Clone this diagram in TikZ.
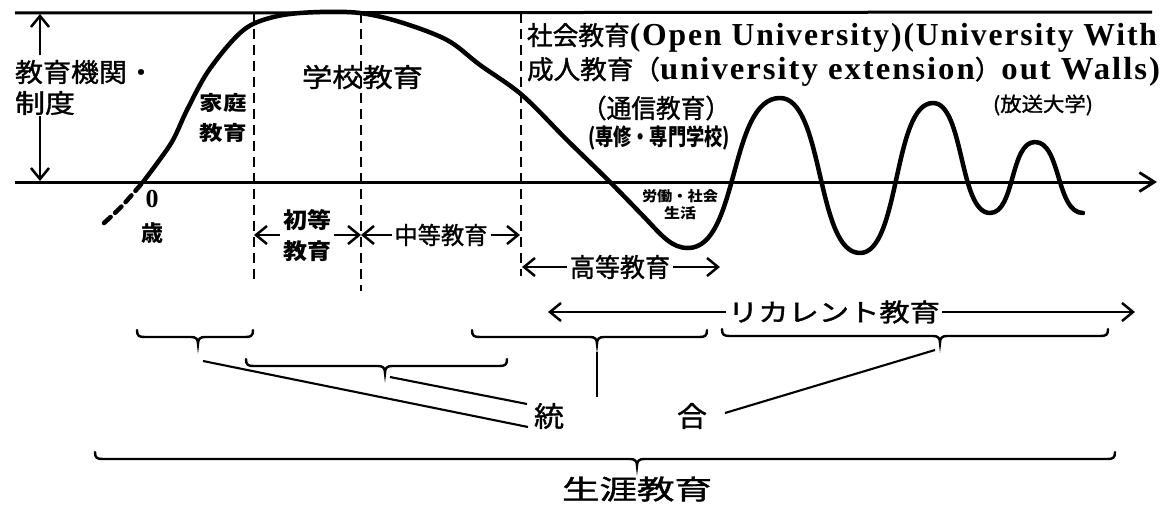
\documentclass[tikz,border=0pt]{standalone}
\usepackage{fontspec}
\usepackage{graphicx}
\setmainfont{Liberation Serif}
\newfontfamily\lat{Liberation Serif}[LetterSpace=6]
\newfontfamily\jp{Noto Sans CJK JP}
\newfontfamily\jpm{Noto Sans CJK JP}[BoldFont={Noto Sans CJK JP}, BoldFeatures={FakeBold=1.2}]
\usetikzlibrary{arrows.meta}
\newcommand\fitw[2]{\resizebox{#1}{\height}{#2}}
\newcommand\fs[1]{\fontsize{#1}{#1}\selectfont}
\newcommand\med{\jpm\bfseries}
\newcommand\mybrace[4]{%
  \draw[br] (#1,#4) .. controls (#1,{#4+6}) and ({#1+2},{#4+7}) .. ({#1+8},{#4+7})
    -- ({#3-7},{#4+7}) .. controls ({#3-2},{#4+7}) and (#3,{#4+9}) .. (#3,{#4+14})
    .. controls (#3,{#4+9}) and ({#3+2},{#4+7}) .. ({#3+7},{#4+7})
    -- ({#2-8},{#4+7}) .. controls ({#2-2},{#4+7}) and (#2,{#4+6}) .. (#2,#4);}
\tikzset{
  curve/.style={line width=4.5pt, line join=round, line cap=round},
  axisline/.style={line width=3pt},
  guide/.style={line width=2.4pt, dash pattern=on 10pt off 6pt},
  arr/.style={line width=2.3pt, -{Straight Barb[length=11pt,width=18pt,line width=2.5pt]}},
  br/.style={line width=2.4pt, line cap=round},
  link/.style={line width=2.1pt},
  lab/.style={inner sep=0pt, outer sep=0pt},
}
\begin{document}
\begin{tikzpicture}[x=1pt,y=-1pt]
\useasboundingbox (0,0) rectangle (1170,506);

% top line and base axis
\coordinate (tl) at (15,13);
\coordinate (tr) at (1152,12);
\draw[axisline] (tl) -- (tr);
\coordinate (bl) at (15,182);
\coordinate (br) at (1157,182);
\draw[axisline, -{Straight Barb[length=15pt,width=19pt,line width=2.8pt]}] (bl) -- (br);

% left labels and vertical double arrow
\node[lab, anchor=west] (kikan) at (15,72) {\med\fs{26}\fitw{140pt}{教育機関・}};
\node[lab, anchor=west] (seido) at (15,103) {\med\fs{26}\fitw{60pt}{制度}};
\coordinate (va1) at (40,55);
\coordinate (va2) at (40,14);
\coordinate (vb1) at (40,116);
\coordinate (vb2) at (40,181);
\draw[arr] (va1) -- (va2);
\draw[arr] (vb1) -- (vb2);

% dashed guides
\coordinate (g1t) at (254,13);  \coordinate (g1b) at (254,285);
\coordinate (g2t) at (361,13);  \coordinate (g2b) at (361,291);
\coordinate (g3t) at (521,13);  \coordinate (g3b) at (521,276);
\draw[guide] (g1t) -- (g1b);
\draw[guide] (g2t) -- (g2b);
\draw[guide] (g3t) -- (g3b);

% life curve
\draw[curve, dash pattern=on 9pt off 6pt] plot[smooth] coordinates {(104,223) (122,206) (143,182)};
\draw[curve] plot[smooth, tension=0.55] coordinates {
 (143,182) (158,162) (173,140) (187,110) (207,73) (233,40) (253,24) (283,15) (320,12)
 (360,13) (400,22) (447,40) (480,65) (522,95) (567,140) (610,182) (647,220)}
 .. controls (662,236) and (672,248) .. (688,248)
 .. controls (739,248) and (729,98) .. (780,98)
 .. controls (824,98) and (816,253) .. (860,253)
 .. controls (900,253) and (893,103) .. (933,103)
 .. controls (964,103) and (959,213) .. (990,213)
 .. controls (1015,213) and (1010,142) .. (1035,142)
 .. controls (1061,142) and (1056,213) .. (1083,213);

% upper labels
\node[lab] (katei1) at (223,103) {\jp\fs{20}\bfseries\fitw{47pt}{家庭}};
\node[lab] (katei2) at (223,133) {\jp\fs{20}\bfseries\fitw{47pt}{教育}};
\node[lab, anchor=west] (gakko) at (302,77) {\med\fs{26}\fitw{121pt}{学校教育}};
\node[lab, anchor=base west] (shakai) at (527,45) {\fitw{630pt}{{\med\fs{26}社会教育}{\lat\fs{32}\bfseries (Open University)(University With}}};
\node[lab, anchor=base west] (seijin) at (527,79) {\fitw{633pt}{{\med\fs{26}成人教育（}{\lat\fs{32}\bfseries university extension}{\med\fs{26}）}{\lat\fs{32}\bfseries out Walls)}}};
\node[lab] (tsushin) at (656,108) {\med\fs{26}\fitw{148pt}{（通信教育）}};
\node[lab] (senshu) at (659,138) {\jp\fs{23}\bfseries\fitw{142pt}{(専修・専門学校)}};
\node[lab] (hoso) at (1043,105) {\med\fs{20}\fitw{100pt}{(放送大学)}};
\node[lab, align=center, font={\jp\fs{14}\bfseries}] (rodo) at (680,205) {\fitw{76pt}{労働・社会}\\[3pt]\fitw{32pt}{生活}};

% age label
\node[lab] (zero) at (152,199) {\lat\fs{26}\bfseries 0};
\node[lab] (sai) at (152,233) {\jp\fs{22}\bfseries 歳};

% school stages
\node[lab, outer sep=3pt, align=center, font={\jp\fs{22}\bfseries}] (shoto) at (307,236) {\fitw{48pt}{初等}\\[9pt]\fitw{48pt}{教育}};
\coordinate (s1l) at (254,235);
\coordinate (s1r) at (361,235);
\draw[arr] (shoto.west |- s1l) -- (s1l);
\draw[arr] (shoto.east |- s1r) -- (s1r);
\node[lab, outer sep=3pt] (chuto) at (441,235) {\med\fs{24}\fitw{93pt}{中等教育}};
\coordinate (s2l) at (361,235);
\coordinate (s2r) at (520,235);
\draw[arr] (chuto) -- (s2l);
\draw[arr] (chuto) -- (s2r);
\node[lab, outer sep=3pt] (koto) at (620,267) {\med\fs{26}\fitw{100pt}{高等教育}};
\coordinate (s3l) at (522,267);
\coordinate (s3r) at (720,267);
\draw[arr] (koto) -- (s3l);
\draw[arr] (koto) -- (s3r);
\node[lab, outer sep=2pt] (recur) at (834,312) {\med\fs{25}\fitw{212pt}{リカレント教育}};
\coordinate (s4l) at (548,312);
\coordinate (s4r) at (1135,312);
\draw[arr] (recur) -- (s4l);
\draw[arr] (recur) -- (s4r);

% braces
\mybrace{137}{253}{198}{330}
\mybrace{246}{507}{385}{359}
\mybrace{472}{707}{597}{330}
\mybrace{722}{1108}{940}{329}
\mybrace{95}{1115}{637}{452}

% integration
\node[lab] (tou) at (549,416) {\med\fs{28}\fitw{30pt}{統}};
\node[lab] (gou) at (692,416) {\med\fs{28}\fitw{30pt}{合}};
\coordinate (b1t) at (203,361);
\coordinate (b2t) at (390,377);
\coordinate (b3t) at (597,352);
\coordinate (b4t) at (935,350);
\coordinate (e1) at (528,427);
\coordinate (e2) at (527,404);
\coordinate (e3) at (597,397);
\coordinate (e4) at (725,413);
\draw[link] (b1t) -- (e1);
\draw[link] (b2t) -- (e2);
\draw[link] (b3t) -- (e3);
\draw[link] (b4t) -- (e4);

\node[lab] (shogai) at (637,489) {\med\fs{27}\fitw{150pt}{生涯教育}};
\end{tikzpicture}
\end{document}
